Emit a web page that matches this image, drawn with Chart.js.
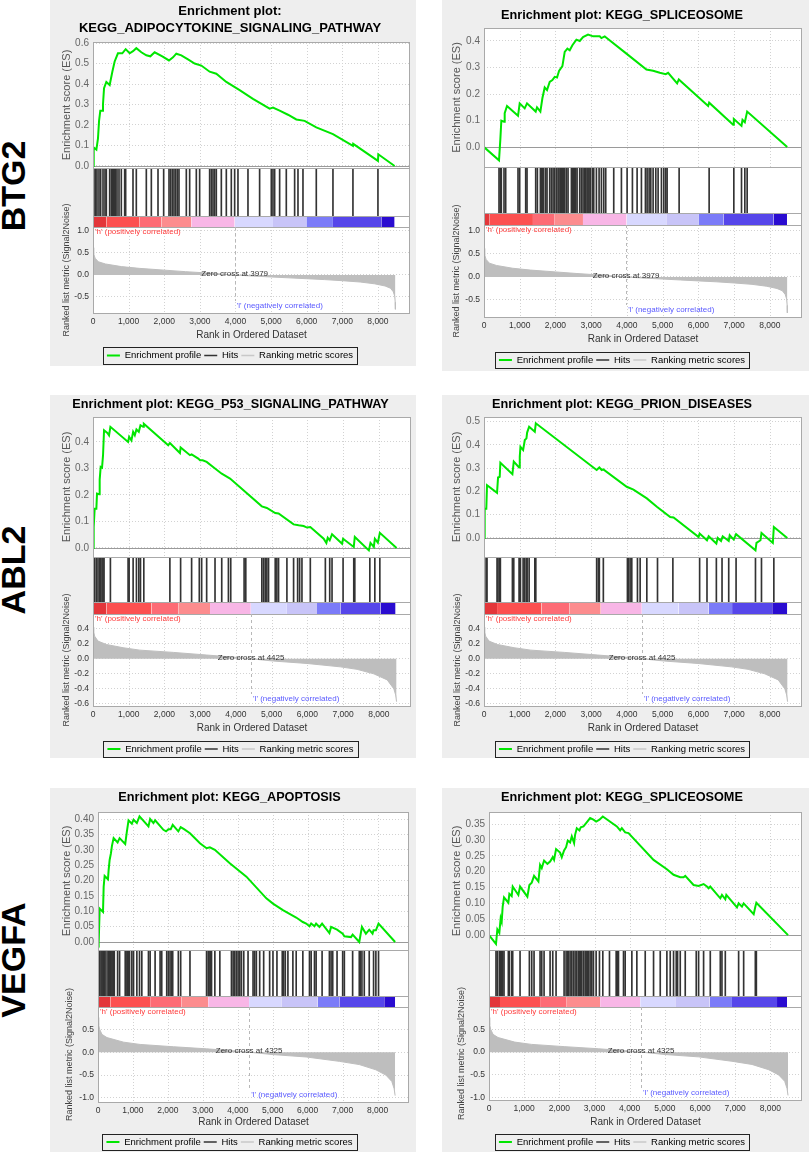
<!DOCTYPE html>
<html>
<head>
<meta charset="utf-8">
<title>GSEA enrichment plots</title>
<script src="https://cdn.jsdelivr.net/npm/chart.js@4.4.1/dist/chart.umd.min.js"></script>
<style>
  html, body { margin: 0; padding: 0; background: #fff; }
  #fig { position: relative; width: 809px; height: 1155px; overflow: hidden; font-family: "Liberation Sans", Arial, sans-serif; }
  .panel { position: absolute; background: #eeeeee; }
  .panel canvas { display: block; }
  .gene { position: absolute; font-weight: bold; font-size: 34px; line-height: 1; color: #000;
          transform: translate(-50%, -50%) rotate(-90deg); white-space: nowrap; }
</style>
</head>
<body>
<div id="fig">
  <div class="gene" style="left:13px;top:186px">BTG2</div>
  <div class="gene" style="left:13px;top:570px">ABL2</div>
  <div class="gene" style="left:13px;top:960px">VEGFA</div>
</div>
<script>
// ---- shared x ticks (rank in ordered dataset) ----
const rankTicks = [0, 1000, 2000, 3000, 4000, 5000, 6000, 7000, 8000];

// ---- ranked list metric (one per gene) ----
const btg2ZeroCross = 3979;
const btg2MetricRank = [0, 20, 60, 150, 350, 800, 1300, 2000, 2600, 3200, 3600, 3979, 4500, 5000, 5500, 6000, 6500, 7000, 7500, 7900, 8200, 8350, 8430, 8470, 8485, 8490];
const btg2MetricValue = [0.62, 0.48, 0.38, 0.3, 0.25, 0.19, 0.15, 0.11, 0.075, 0.045, 0.022, 0, -0.025, -0.045, -0.065, -0.085, -0.105, -0.13, -0.16, -0.2, -0.25, -0.3, -0.38, -0.48, -0.62, -0.78];
const btg2MetricTicks = [-0.5, 0, 0.5, 1.0];

const abl2ZeroCross = 4425;
const abl2MetricRank = [0, 20, 47, 140, 374, 842, 1310, 2246, 3181, 4117, 4425, 5053, 5989, 6924, 7392, 7860, 8234, 8421, 8470, 8496];
const abl2MetricValue = [0.42, 0.36, 0.3, 0.235, 0.19, 0.147, 0.115, 0.085, 0.05, 0.015, 0, -0.03, -0.062, -0.107, -0.14, -0.2, -0.28, -0.4, -0.48, -0.57];
const abl2MetricTicks = [-0.6, -0.4, -0.2, 0, 0.2, 0.4];

const vegfaZeroCross = 4325;
const vegfaMetricRank = [0, 20, 48, 114, 257, 732, 1207, 2157, 3107, 4057, 4325, 5007, 5957, 6907, 7477, 7952, 8237, 8408, 8475, 8503];
const vegfaMetricValue = [0.76, 0.6, 0.5, 0.39, 0.32, 0.22, 0.17, 0.12, 0.074, 0.02, 0, -0.052, -0.104, -0.2, -0.27, -0.385, -0.5, -0.64, -0.8, -0.95];
const vegfaMetricTicks = [-1.0, -0.5, 0, 0.5];

// ---- BTG2 : KEGG_ADIPOCYTOKINE_SIGNALING_PATHWAY ----
const adipoRank = [0, 20, 95, 140, 170, 205, 262, 280, 310, 374, 468, 543, 608, 700, 823, 917, 1030, 1123, 1216, 1357, 1497, 1610, 1731, 1946, 2133, 2246, 2339, 2480, 2667, 2854, 3041, 3275, 3462, 3743, 4117, 4491, 4959, 5053, 5240, 5474, 5708, 5942, 6269, 6737, 7298, 7305, 8000, 8010, 8468];
const adipoES = [0, 0.09, 0.08, 0.135, 0.22, 0.27, 0.27, 0.3, 0.38, 0.41, 0.395, 0.46, 0.51, 0.55, 0.55, 0.57, 0.55, 0.56, 0.575, 0.555, 0.54, 0.535, 0.555, 0.535, 0.515, 0.53, 0.548, 0.54, 0.52, 0.5, 0.49, 0.46, 0.45, 0.41, 0.37, 0.327, 0.28, 0.285, 0.27, 0.25, 0.227, 0.22, 0.188, 0.155, 0.098, 0.108, 0.025, 0.057, 0];
const adipoHits = [28, 75, 112, 168, 215, 281, 337, 374, 468, 515, 543, 580, 608, 636, 674, 730, 795, 889, 917, 1123, 1216, 1497, 1638, 1825, 1984, 2134, 2180, 2227, 2274, 2321, 2368, 2414, 2620, 2714, 2901, 2994, 3275, 3322, 3369, 3415, 3462, 3603, 3743, 3883, 3977, 4070, 4351, 4678, 5006, 5053, 5100, 5240, 5427, 5661, 5755, 5895, 6269, 6737, 7298, 8000];
const adipoBarEdges = [0, 374, 1310, 1918, 2760, 3977, 5053, 5989, 6737, 8094, 8468];
const adipoESTicks = [0, 0.1, 0.2, 0.3, 0.4, 0.5, 0.6];

// ---- BTG2 : KEGG_SPLICEOSOME ----
const btg2SpliceRank = [0, 420, 457, 485, 560, 579, 644, 952, 999, 1139, 1204, 1447, 1484, 1578, 1634, 1699, 1764, 1839, 1914, 1979, 2044, 2100, 2194, 2259, 2334, 2399, 2474, 2586, 2679, 2772, 2912, 3053, 3239, 3286, 3379, 3426, 3986, 4546, 4733, 4920, 5087, 5153, 5405, 5452, 6273, 6301, 6973, 6992, 7207, 7235, 7300, 7365, 8486];
const btg2SpliceES = [0, -0.05, 0.028, 0.1, 0.096, 0.128, 0.155, 0.118, 0.165, 0.146, 0.165, 0.134, 0.15, 0.134, 0.184, 0.225, 0.215, 0.246, 0.2525, 0.265, 0.2625, 0.2875, 0.305, 0.359, 0.371, 0.365, 0.384, 0.405, 0.4, 0.415, 0.424, 0.4175, 0.4175, 0.411, 0.4175, 0.4125, 0.3525, 0.2925, 0.2875, 0.28, 0.275, 0.28, 0.24, 0.255, 0.155, 0.1675, 0.084, 0.106, 0.08, 0.1025, 0.094, 0.134, 0];
const btg2SpliceHits = [420, 457, 485, 560, 607, 952, 999, 1167, 1204, 1447, 1494, 1578, 1606, 1634, 1671, 1727, 1764, 1839, 1886, 1933, 1979, 2026, 2072, 2100, 2138, 2166, 2194, 2231, 2259, 2306, 2352, 2446, 2474, 2511, 2539, 2567, 2605, 2679, 2726, 2772, 2819, 2847, 2884, 2912, 2941, 2978, 3034, 3071, 3146, 3221, 3286, 3351, 3407, 3631, 3846, 4005, 4154, 4285, 4406, 4518, 4565, 4621, 4668, 4733, 4808, 4873, 4966, 5032, 5087, 5125, 5461, 6301, 6992, 7207, 7300, 7365];
const btg2SpliceBarEdges = [0, 160, 1370, 1980, 2770, 3990, 5100, 6000, 6700, 8100, 8480];
const btg2SpliceESTicks = [0, 0.1, 0.2, 0.3, 0.4];

// ---- ABL2 : KEGG_P53_SIGNALING_PATHWAY ----
const p53Rank = [0, 19, 47, 94, 112, 168, 187, 215, 253, 281, 309, 402, 449, 487, 982, 1011, 1076, 1123, 1170, 1216, 1282, 1329, 1404, 1422, 2105, 2152, 2433, 2452, 2714, 2760, 2947, 2994, 3069, 3181, 3415, 3603, 3836, 4725, 4866, 5100, 5193, 5614, 5755, 5895, 5989, 6082, 6456, 6531, 6569, 6625, 6690, 6971, 6999, 7298, 7327, 7720, 7766, 7860, 7888, 7972, 8028, 8496];
const p53ES = [0, 0.079, 0.148, 0.148, 0.205, 0.2025, 0.258, 0.306, 0.303, 0.35, 0.444, 0.434, 0.425, 0.457, 0.4, 0.419, 0.406, 0.438, 0.425, 0.447, 0.438, 0.463, 0.457, 0.469, 0.387, 0.396, 0.358, 0.379, 0.35, 0.353, 0.337, 0.331, 0.331, 0.3245, 0.3, 0.28, 0.262, 0.157, 0.151, 0.132, 0.13, 0.089, 0.0855, 0.083, 0.077, 0.079, 0.035, 0.019, 0.039, 0.029, 0.052, 0.016, 0.035, 0.004, 0.0415, -0.009, 0.019, 0.004, 0.035, 0.02, 0.057, 0];
const p53Hits = [19, 47, 94, 112, 168, 187, 215, 253, 281, 309, 487, 982, 1011, 1123, 1216, 1282, 1329, 1422, 2152, 2452, 2760, 2975, 3041, 3181, 3415, 3603, 3790, 3855, 4229, 4276, 4725, 4772, 4819, 4866, 4913, 5100, 5146, 5193, 5427, 5614, 5727, 5783, 5848, 6082, 6503, 6625, 6690, 6999, 7298, 7327, 7748, 7888, 8028];
const p53BarEdges = [0, 375, 1637, 2386, 3275, 4416, 5427, 6269, 6924, 8047, 8468];
const p53ESTicks = [0, 0.1, 0.2, 0.3, 0.4];

// ---- ABL2 : KEGG_PRION_DISEASES ----
const prionRank = [0, 19, 65, 84, 365, 393, 440, 458, 795, 833, 982, 1001, 1020, 1095, 1142, 1188, 1207, 1263, 1422, 1450, 3153, 3228, 3294, 3340, 3995, 4183, 4557, 4838, 5212, 5305, 6007, 6035, 6241, 6288, 6503, 6540, 6634, 6681, 6849, 6877, 6989, 7055, 7598, 7626, 7738, 7766, 8084, 8112, 8487];
const prionES = [0, 0.126, 0.126, 0.227, 0.194, 0.26, 0.263, 0.323, 0.274, 0.328, 0.303, 0.349, 0.392, 0.378, 0.421, 0.428, 0.453, 0.478, 0.457, 0.493, 0.292, 0.303, 0.292, 0.295, 0.22, 0.208, 0.17, 0.134, 0.09, 0.0876, 0.004, 0.019, -0.01, 0.007, -0.024, 0, -0.013, 0.007, -0.013, 0.0115, -0.007, 0.016, -0.053, -0.0215, -0.01, 0.0215, -0.0215, 0.047, 0];
const prionHits = [19, 65, 84, 365, 393, 440, 458, 795, 833, 982, 1001, 1020, 1095, 1142, 1188, 1207, 1263, 1422, 1450, 3153, 3200, 3228, 3340, 4014, 4042, 4089, 4136, 4295, 4370, 4557, 4856, 5286, 6035, 6241, 6503, 6662, 6849, 7055, 7598, 7766, 8112];
const prionBarEdges = [0, 365, 1609, 2386, 3266, 4416, 5446, 6288, 6943, 8065, 8487];
const prionESTicks = [0, 0.1, 0.2, 0.3, 0.4, 0.5];

// ---- VEGFA : KEGG_APOPTOSIS ----
const apopRank = [0, 19, 48, 143, 162, 190, 285, 304, 333, 371, 399, 447, 561, 618, 779, 827, 874, 969, 1017, 1112, 1188, 1444, 1492, 1587, 1634, 1872, 1948, 2014, 2081, 2138, 2299, 2366, 2461, 2632, 2917, 3107, 3202, 3344, 3772, 4247, 4817, 5007, 5292, 5672, 5862, 5957, 6052, 6100, 6195, 6242, 6337, 6413, 6622, 6670, 6841, 7002, 7050, 7240, 7287, 7477, 7553, 7667, 7762, 7857, 7886, 7952, 8028, 8503];
const apopES = [0, -0.005, 0.109, 0.098, 0.18, 0.215, 0.204, 0.234, 0.267, 0.289, 0.313, 0.338, 0.324, 0.338, 0.319, 0.36, 0.396, 0.385, 0.398, 0.387, 0.409, 0.376, 0.4, 0.387, 0.396, 0.365, 0.36, 0.367, 0.367, 0.381, 0.36, 0.374, 0.367, 0.354, 0.3215, 0.305, 0.308, 0.3, 0.256, 0.2125, 0.142, 0.125, 0.1035, 0.0796, 0.065, 0.06, 0.051, 0.06, 0.051, 0.06, 0.049, 0.06, 0.029, 0.049, 0.04, 0.027, 0.0185, 0.016, 0.024, 0, 0.049, 0.027, 0.04, 0.027, 0.038, 0.038, 0.06, 0];
const apopHits = [19, 48, 86, 114, 143, 162, 190, 228, 285, 304, 333, 352, 371, 399, 428, 447, 466, 561, 618, 779, 827, 846, 874, 903, 969, 1017, 1112, 1188, 1254, 1444, 1492, 1634, 1777, 1824, 1967, 2014, 2062, 2109, 2138, 2299, 2366, 2632, 3107, 3154, 3202, 3221, 3249, 3344, 3487, 3819, 3867, 3914, 3962, 4009, 4057, 4104, 4171, 4294, 4437, 4484, 4532, 4627, 4741, 4912, 5007, 5121, 5273, 5311, 5359, 5435, 5577, 5672, 5862, 6052, 6100, 6195, 6242, 6413, 6622, 6670, 6717, 6841, 7002, 7050, 7287, 7477, 7506, 7553, 7620, 7762, 7886, 7952, 8028];
const apopBarEdges = [0, 352, 1492, 2394, 3154, 4323, 5245, 6290, 6907, 8190, 8503];
const apopESTicks = [0, 0.05, 0.1, 0.15, 0.2, 0.25, 0.3, 0.35, 0.4];

// ---- VEGFA : KEGG_SPLICEOSOME ----
const vegfaSpliceRank = [0, 199, 237, 294, 332, 361, 389, 427, 550, 579, 645, 674, 835, 883, 1091, 1148, 1215, 1281, 1405, 1452, 1500, 1566, 1661, 1737, 1813, 1850, 1907, 2021, 2069, 2135, 2192, 2240, 2306, 2354, 2420, 2448, 2496, 2572, 2610, 2686, 2762, 2875, 2970, 3046, 3141, 3236, 3635, 3730, 3777, 3872, 3967, 4679, 5058, 5248, 5438, 5533, 5580, 5817, 5960, 6102, 6197, 6244, 6292, 6577, 6624, 6719, 6748, 7051, 7098, 7193, 7241, 7526, 7573, 7602, 8503];
const vegfaSpliceES = [0, -0.028, 0.018, 0.007, 0.053, 0.042, 0.09, 0.119, 0.102, 0.13, 0.123, 0.153, 0.1265, 0.153, 0.121, 0.158, 0.1655, 0.1866, 0.169, 0.221, 0.211, 0.235, 0.2245, 0.232, 0.2456, 0.237, 0.271, 0.26, 0.2456, 0.267, 0.277, 0.298, 0.292, 0.311, 0.29, 0.316, 0.337, 0.33, 0.34, 0.3426, 0.353, 0.369, 0.3637, 0.358, 0.3637, 0.374, 0.3426, 0.33, 0.337, 0.3236, 0.3215, 0.237, 0.2077, 0.19, 0.1824, 0.1824, 0.1866, 0.158, 0.155, 0.161, 0.153, 0.1476, 0.153, 0.116, 0.1265, 0.113, 0.1265, 0.0875, 0.1, 0.0896, 0.1, 0.066, 0.0896, 0.102, 0];
const vegfaSpliceHits = [199, 237, 294, 332, 361, 389, 427, 550, 579, 645, 674, 883, 1148, 1215, 1281, 1452, 1500, 1566, 1737, 1813, 1907, 2135, 2192, 2240, 2259, 2306, 2354, 2401, 2448, 2496, 2543, 2572, 2610, 2638, 2686, 2733, 2762, 2800, 2828, 2875, 2923, 2970, 3046, 3141, 3236, 3426, 3616, 3635, 3654, 3682, 3825, 3872, 4062, 4204, 4442, 4679, 4869, 5058, 5153, 5248, 5324, 5362, 5438, 5580, 5893, 5960, 6102, 6292, 6577, 6624, 6719, 7098, 7241, 7573, 7602];
const vegfaSpliceBarEdges = [0, 313, 1452, 2211, 3160, 4300, 5295, 6273, 6909, 8190, 8475];
const vegfaSpliceESTicks = [0, 0.05, 0.1, 0.15, 0.2, 0.25, 0.3, 0.35];

const FONT = '"Liberation Sans", Arial, sans-serif';
const barPalette = ['#e3363a', '#fc5050', '#fd6b75', '#fc8c8e', '#f8b6e6', '#d8d8ff', '#c8c4f8', '#7b7bf8', '#5646ea', '#2a0cd0'];
Chart.defaults.font.family = FONT;

const pts = (xs, ys) => xs.map((x, i) => ({ x: x, y: ys[i] }));
const setTicks = values => s => { s.ticks = values.map(v => ({ value: v })); };

const panels = [
  { title: ['Enrichment plot:', 'KEGG_ADIPOCYTOKINE_SIGNALING_PATHWAY'], titleSize: 13,
    rank: adipoRank, es: adipoES, hits: adipoHits, edges: adipoBarEdges, esTicks: adipoESTicks,
    mRank: btg2MetricRank, mValue: btg2MetricValue, mTicks: btg2MetricTicks, zero: btg2ZeroCross,
    esMin: -0.01, esMax: 0.605, esDec: 1, mMin: -0.864, mMax: 1.09,
    left: 50, top: 0, w: 366, h: 366, plotL: 43, plotT: 42, plotR: 360, plotB: 313,
    titleC: 11, legC: 355.5, xTitleC: 335, wts: [126, 48, 11, 86], esTitleX: 17, rankTitleX: 17 },
  { title: 'Enrichment plot: KEGG_SPLICEOSOME', titleSize: 12.7,
    rank: btg2SpliceRank, es: btg2SpliceES, hits: btg2SpliceHits, edges: btg2SpliceBarEdges, esTicks: btg2SpliceESTicks,
    mRank: btg2MetricRank, mValue: btg2MetricValue, mTicks: btg2MetricTicks, zero: btg2ZeroCross,
    esMin: -0.075, esMax: 0.449, esDec: 1, mMin: -0.87, mMax: 1.13,
    left: 442, top: 0, w: 367, h: 371, plotL: 42, plotT: 28, plotR: 360, plotB: 317,
    titleC: 15, legC: 360, xTitleC: 339, wts: [139, 46, 12, 92], esTitleX: 15, rankTitleX: 15 },
  { title: 'Enrichment plot: KEGG_P53_SIGNALING_PATHWAY', titleSize: 12.7,
    rank: p53Rank, es: p53ES, hits: p53Hits, edges: p53BarEdges, esTicks: p53ESTicks,
    mRank: abl2MetricRank, mValue: abl2MetricValue, mTicks: abl2MetricTicks, zero: abl2ZeroCross,
    esMin: -0.034, esMax: 0.494, esDec: 1, mMin: -0.627, mMax: 0.595,
    left: 50, top: 395, w: 366, h: 363, plotL: 43, plotT: 22, plotR: 361, plotB: 311,
    titleC: 9, legC: 354, xTitleC: 333, wts: [140, 45, 12, 92], esTitleX: 17, rankTitleX: 17 },
  { title: 'Enrichment plot: KEGG_PRION_DISEASES', titleSize: 12.7,
    rank: prionRank, es: prionES, hits: prionHits, edges: prionBarEdges, esTicks: prionESTicks,
    mRank: abl2MetricRank, mValue: abl2MetricValue, mTicks: abl2MetricTicks, zero: abl2ZeroCross,
    esMin: -0.082, esMax: 0.52, esDec: 1, mMin: -0.627, mMax: 0.595,
    left: 442, top: 395, w: 367, h: 363, plotL: 42, plotT: 22, plotR: 360, plotB: 311,
    titleC: 9, legC: 354, xTitleC: 333, wts: [140, 45, 12, 92], esTitleX: 15, rankTitleX: 16 },
  { title: 'Enrichment plot: KEGG_APOPTOSIS', titleSize: 12.7,
    rank: apopRank, es: apopES, hits: apopHits, edges: apopBarEdges, esTicks: apopESTicks,
    mRank: vegfaMetricRank, mValue: vegfaMetricValue, mTicks: vegfaMetricTicks, zero: vegfaZeroCross,
    esMin: -0.026, esMax: 0.423, esDec: 2, mMin: -1.09, mMax: 0.99,
    left: 50, top: 788, w: 366, h: 364, plotL: 48, plotT: 24, plotR: 359, plotB: 314,
    titleC: 9, legC: 354, xTitleC: 334, wts: [138, 46, 11, 95], esTitleX: 17, rankTitleX: 20 },
  { title: 'Enrichment plot: KEGG_SPLICEOSOME', titleSize: 12.7,
    rank: vegfaSpliceRank, es: vegfaSpliceES, hits: vegfaSpliceHits, edges: vegfaSpliceBarEdges, esTicks: vegfaSpliceESTicks,
    mRank: vegfaMetricRank, mValue: vegfaMetricValue, mTicks: vegfaMetricTicks, zero: vegfaZeroCross,
    esMin: -0.047, esMax: 0.388, esDec: 2, mMin: -1.05, mMax: 0.99,
    left: 442, top: 788, w: 367, h: 364, plotL: 47, plotT: 24, plotR: 360, plotB: 312,
    titleC: 9, legC: 354, xTitleC: 334, wts: [138, 46, 11, 93], esTitleX: 15, rankTitleX: 20 }
];

// grid, frames and text annotations of a GSEA plot
const gseaDecor = {
  id: 'gseaDecor',
  beforeDraw(chart) {
    const { ctx, chartArea: a, scales } = chart;
    ctx.save();
    ctx.fillStyle = '#fff';
    ctx.fillRect(a.left, a.top, a.width, a.height);
    ctx.strokeStyle = '#d2d2d2';
    ctx.lineWidth = 1;
    ctx.setLineDash([1, 2]);
    scales.x.ticks.forEach(t => {
      const px = Math.round(scales.x.getPixelForValue(t.value)) + 0.5;
      [scales.yES, scales.yRank].forEach(s => {
        ctx.beginPath();
        ctx.moveTo(px, s.top);
        ctx.lineTo(px, s.bottom);
        ctx.stroke();
      });
    });
    ctx.restore();
  },
  beforeDatasetsDraw(chart) {
    const { ctx, chartArea: a, scales } = chart;
    const y0 = Math.round(scales.yES.getPixelForValue(0)) + 0.5;
    ctx.save();
    ctx.strokeStyle = '#9a9a9a';
    ctx.lineWidth = 1;
    ctx.beginPath();
    ctx.moveTo(a.left, y0);
    ctx.lineTo(a.right, y0);
    ctx.stroke();
    ctx.restore();
  },
  afterDatasetsDraw(chart, args, opts) {
    const { ctx, chartArea: a, scales } = chart;
    const { x, yES, yHits, yBar, yRank } = scales;
    ctx.save();
    ctx.strokeStyle = '#a9a9a9';
    ctx.lineWidth = 1;
    [yES, yHits, yBar, yRank].forEach(s => {
      ctx.strokeRect(a.left + 0.5, Math.round(s.top) + 0.5, a.width - 1, Math.round(s.bottom) - Math.round(s.top));
    });
    const zx = x.getPixelForValue(opts.zeroCross);
    ctx.strokeStyle = '#b8b8b8';
    ctx.setLineDash([3, 3]);
    ctx.beginPath();
    ctx.moveTo(Math.round(zx) + 0.5, yRank.top);
    ctx.lineTo(Math.round(zx) + 0.5, yRank.bottom - 12);
    ctx.stroke();
    ctx.setLineDash([]);
    ctx.font = '8px ' + FONT;
    ctx.textBaseline = 'middle';
    ctx.textAlign = 'left';
    ctx.fillStyle = '#ff3c3c';
    ctx.fillText("'h' (positively correlated)", a.left + 2, yRank.top + 5);
    ctx.textAlign = 'center';
    ctx.fillStyle = '#333';
    ctx.fillText('Zero cross at ' + opts.zeroCross, zx, yRank.getPixelForValue(0) - 1);
    ctx.textAlign = 'left';
    ctx.fillStyle = '#5a5aff';
    ctx.fillText("'l' (negatively correlated)", zx + 2, yRank.bottom - 7);
    ctx.restore();
  },
  afterDraw(chart) {
    const boxes = chart.legend && chart.legend.legendHitBoxes;
    if (!boxes || !boxes.length) return;
    const { ctx } = chart;
    const l = Math.round(Math.min(...boxes.map(b => b.left)) - 4);
    const r = Math.round(Math.max(...boxes.map(b => b.left + b.width)) + 4);
    const t = Math.round(boxes[0].top - 3.5);
    const b = Math.round(boxes[0].top + boxes[0].height + 3.5);
    ctx.save();
    ctx.strokeStyle = '#222';
    ctx.lineWidth = 1;
    ctx.strokeRect(l + 0.5, t + 0.5, r - l, b - t);
    ctx.restore();
  }
};

function drawPanel(p) {
  const wrap = document.createElement('div');
  wrap.className = 'panel';
  wrap.style.left = p.left + 'px';
  wrap.style.top = p.top + 'px';
  wrap.style.width = p.w + 'px';
  wrap.style.height = p.h + 'px';
  const canvas = document.createElement('canvas');
  canvas.width = p.w;
  canvas.height = p.h;
  wrap.appendChild(canvas);
  document.getElementById('fig').appendChild(wrap);

  const lines = Array.isArray(p.title) ? p.title.length : 1;
  const titleLH = p.titleSize * 1.35;
  const tPadTop = p.titleC - titleLH / 2;
  const tPadBottom = p.plotT - tPadTop - lines * titleLH;
  const legTop = p.legC - 7.75;
  const padBottom = p.h - legTop - 17;
  const xAxisH = legTop - p.plotB;
  const xTitlePadB = legTop - p.xTitleC - 6;
  const fixWidth = s => { s.width = p.plotL; };

  const datasets = [
    { type: 'line', label: 'Enrichment profile', data: pts(p.rank, p.es), yAxisID: 'yES',
      borderColor: '#00e600', borderWidth: 2, pointRadius: 0, tension: 0, fill: false },
    { type: 'bar', label: 'Hits', data: p.hits.map(h => ({ x: h, y: 1 })), yAxisID: 'yHits',
      backgroundColor: '#333', barThickness: 1, grouped: false },
    { type: 'line', label: 'Ranking metric scores', data: pts(p.mRank, p.mValue), yAxisID: 'yRank',
      borderColor: '#bebebe', backgroundColor: '#bebebe', borderWidth: 1, pointRadius: 0, tension: 0, fill: 'origin' }
  ];
  p.edges.slice(0, -1).forEach((e, i) => {
    datasets.push({ type: 'line', label: 'bar' + i, data: [{ x: e, y: 1 }, { x: p.edges[i + 1], y: 1 }],
      yAxisID: 'yBar', borderColor: 'rgba(0,0,0,0)', borderWidth: 1, pointRadius: 0,
      backgroundColor: barPalette[i], fill: 'start' });
  });

  const hiddenAxis = (weight) => ({
    type: 'linear', position: 'left', stack: 'gsea', stackWeight: weight, min: 0, max: 1,
    bounds: 'data', afterFit: fixWidth,
    grid: { display: false, drawTicks: false }, border: { display: false }, ticks: { display: false }
  });

  // left stack is laid out in reverse order: the last axis listed ends up on top
  new Chart(canvas, {
    type: 'line',
    data: { datasets },
    plugins: [gseaDecor],
    options: {
      responsive: false,
      animation: false,
      events: [],
      layout: { padding: { left: 0, top: 0, right: p.w - p.plotR, bottom: padBottom } },
      scales: {
        x: {
          type: 'linear', min: 0, max: 8900, bounds: 'data', offset: false,
          afterBuildTicks: setTicks(rankTicks),
          grid: { display: false, drawTicks: false, offset: false }, border: { display: false },
          ticks: { autoSkip: false, maxRotation: 0, padding: 4,
                   color: '#333', font: { size: 8.5 }, callback: v => v.toLocaleString('en-US') },
          title: { display: true, text: 'Rank in Ordered Dataset', color: '#333', font: { size: 10 },
                   padding: { top: 0, bottom: xTitlePadB } },
          afterFit: s => { s.height = xAxisH; }
        },
        yRank: {
          type: 'linear', position: 'left', stack: 'gsea', stackWeight: p.wts[3],
          min: p.mMin, max: p.mMax, bounds: 'data', afterFit: fixWidth,
          afterBuildTicks: setTicks(p.mTicks),
          grid: { color: '#d2d2d2', drawTicks: false }, border: { display: false, dash: [1, 2] },
          ticks: { autoSkip: false, padding: 4, color: '#333', font: { size: 8.5 }, callback: v => v.toFixed(1) },
          title: { display: true, text: 'Ranked list metric (Signal2Noise)', color: '#444', font: { size: 9 },
                   padding: { top: p.rankTitleX - 5.4, bottom: 0 } }
        },
        yBar: hiddenAxis(p.wts[2]),
        yHits: hiddenAxis(p.wts[1]),
        yES: {
          type: 'linear', position: 'left', stack: 'gsea', stackWeight: p.wts[0],
          min: p.esMin, max: p.esMax, bounds: 'data', afterFit: fixWidth,
          afterBuildTicks: setTicks(p.esTicks),
          grid: { color: '#d2d2d2', drawTicks: false }, border: { display: false, dash: [1, 2] },
          ticks: { autoSkip: false, padding: 4, color: '#666', font: { size: 10 }, callback: v => v.toFixed(p.esDec) },
          title: { display: true, text: 'Enrichment score (ES)', color: '#555', font: { size: 11 },
                   padding: { top: p.esTitleX - 6.6, bottom: 0 } }
        }
      },
      plugins: {
        gseaDecor: { zeroCross: p.zero },
        tooltip: { enabled: false },
        title: {
          display: true, text: p.title, color: '#000',
          font: { size: p.titleSize, weight: 'bold', lineHeight: 1.35 },
          padding: { top: tPadTop, bottom: tPadBottom }
        },
        legend: {
          position: 'bottom', maxHeight: 17,
          labels: {
            usePointStyle: true, pointStyleWidth: 13, padding: 3, color: '#222', font: { size: 9.5 },
            generateLabels: () => [
              { text: 'Enrichment profile', strokeStyle: '#00e600', fillStyle: '#00e600', lineWidth: 2, pointStyle: 'line', hidden: false, datasetIndex: 0 },
              { text: 'Hits', strokeStyle: '#333', fillStyle: '#333', lineWidth: 1.5, pointStyle: 'line', hidden: false, datasetIndex: 1 },
              { text: 'Ranking metric scores', strokeStyle: '#c8c8c8', fillStyle: '#c8c8c8', lineWidth: 1.5, pointStyle: 'line', hidden: false, datasetIndex: 2 }
            ]
          }
        }
      }
    }
  });
}

panels.forEach(drawPanel);
</script>
</body>
</html>
